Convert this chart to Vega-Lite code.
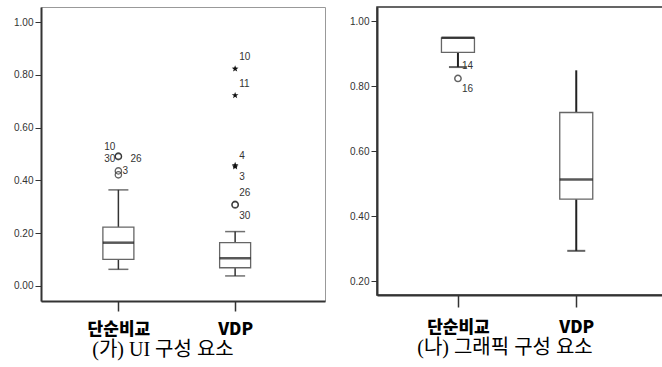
{
  "$schema": "https://vega.github.io/schema/vega-lite/v6.json",
  "padding": {"left": 13, "top": 6, "right": 0, "bottom": 0},
  "background": "white",
  "spacing": 22,
  "config": {
    "view": {"stroke": "#999", "strokeWidth": 1},
    "axis": {"labelFont": "Liberation Sans", "labelFontSize": 10, "labelColor": "#333", "tickColor": "#333", "domainColor": "#333", "domainWidth": 2, "grid": false}
  },
  "datasets": {
    "boxes": [
      {"panel": "A", "cat": 1, "lo": 0.063, "q1": 0.101, "med": 0.164, "q3": 0.223, "hi": 0.364},
      {"panel": "A", "cat": 2, "lo": 0.038, "q1": 0.069, "med": 0.105, "q3": 0.164, "hi": 0.206},
      {"panel": "B", "cat": 1, "lo": 0.859, "q1": 0.904, "med": 0.949, "q3": 0.949, "hi": 0.949},
      {"panel": "B", "cat": 2, "lo": 0.293, "q1": 0.452, "med": 0.513, "q3": 0.719, "hi": 0.849}
    ],
    "outliers": [
      {"panel": "A", "cat": 1, "value": 0.492, "kind": "o"},
      {"panel": "A", "cat": 1, "value": 0.490, "kind": "o"},
      {"panel": "A", "cat": 1, "value": 0.436, "kind": "o"},
      {"panel": "A", "cat": 1, "value": 0.421, "kind": "o"},
      {"panel": "A", "cat": 2, "value": 0.823, "kind": "*"},
      {"panel": "A", "cat": 2, "value": 0.722, "kind": "*"},
      {"panel": "A", "cat": 2, "value": 0.457, "kind": "*"},
      {"panel": "A", "cat": 2, "value": 0.452, "kind": "*"},
      {"panel": "A", "cat": 2, "value": 0.309, "kind": "o"},
      {"panel": "A", "cat": 2, "value": 0.307, "kind": "o"},
      {"panel": "B", "cat": 1, "value": 0.824, "kind": "o"}
    ],
    "labels": [
      {"panel": "A", "cat": 1, "value": 0.528, "label": "10", "side": "L"},
      {"panel": "A", "cat": 1, "value": 0.481, "label": "30", "side": "L"},
      {"panel": "A", "cat": 1, "value": 0.481, "label": "26", "side": "R2"},
      {"panel": "A", "cat": 1, "value": 0.436, "label": "3", "side": "R"},
      {"panel": "A", "cat": 2, "value": 0.867, "label": "10", "side": "R"},
      {"panel": "A", "cat": 2, "value": 0.764, "label": "11", "side": "R"},
      {"panel": "A", "cat": 2, "value": 0.492, "label": "4", "side": "R"},
      {"panel": "A", "cat": 2, "value": 0.414, "label": "3", "side": "R"},
      {"panel": "A", "cat": 2, "value": 0.353, "label": "26", "side": "R"},
      {"panel": "A", "cat": 2, "value": 0.265, "label": "30", "side": "R"},
      {"panel": "B", "cat": 1, "value": 0.862, "label": "14", "side": "R"},
      {"panel": "B", "cat": 1, "value": 0.790, "label": "16", "side": "R"}
    ]
  },
  "hconcat": [
    {
      "width": 284,
      "height": 294,
      "title": {"text": "(가) UI 구성  요소", "orient": "bottom", "font": "Liberation Serif, Noto Sans CJK KR", "fontSize": 20, "fontWeight": "normal", "color": "#000", "dx": -20, "offset": 3},
      "encoding": {
        "x": {"field": "cat", "type": "quantitative", "scale": {"domain": [0.38, 2.727], "nice": false, "zero": false},
          "axis": {"values": [1, 2], "labelExpr": "datum.value == 1 ? '단순비교' : 'VDP'", "title": null, "tickSize": 10, "tickWidth": 1.5, "labelFont": "Noto Sans CJK KR", "labelFontSize": 17, "labelFontWeight": 900, "labelColor": "#000", "labelPadding": 10}}
      },
      "layer": [
        {"data": {"name": "boxes"}, "transform": [{"filter": "datum.panel == 'A'"}],
          "mark": {"type": "rule", "color": "#333", "strokeWidth": 1.5},
          "encoding": {"y": {"field": "lo", "type": "quantitative", "scale": {"domain": [-0.057, 1.057], "nice": false, "zero": false}, "axis": {"values": [0, 0.2, 0.4, 0.6, 0.8, 1], "format": ".2f", "title": null, "tickSize": 6, "labelPadding": 2}}, "y2": {"field": "hi"}}},
        {"data": {"name": "boxes"}, "transform": [{"filter": "datum.panel == 'A'"}],
          "mark": {"type": "tick", "orient": "horizontal", "size": 20, "thickness": 1.5, "color": "#333"},
          "encoding": {"y": {"field": "lo", "type": "quantitative"}}},
        {"data": {"name": "boxes"}, "transform": [{"filter": "datum.panel == 'A'"}],
          "mark": {"type": "tick", "orient": "horizontal", "size": 20, "thickness": 1.5, "color": "#333"},
          "encoding": {"y": {"field": "hi", "type": "quantitative"}}},
        {"data": {"name": "boxes"}, "transform": [{"filter": "datum.panel == 'A'"}],
          "mark": {"type": "bar", "size": 31, "fill": "white", "stroke": "#666", "strokeWidth": 1.3},
          "encoding": {"y": {"field": "q1", "type": "quantitative"}, "y2": {"field": "q3"}}},
        {"data": {"name": "boxes"}, "transform": [{"filter": "datum.panel == 'A'"}],
          "mark": {"type": "tick", "orient": "horizontal", "size": 31, "thickness": 2.5, "color": "#111"},
          "encoding": {"y": {"field": "med", "type": "quantitative"}}},
        {"data": {"name": "outliers"}, "transform": [{"filter": "datum.panel == 'A' && datum.kind == 'o'"}],
          "mark": {"type": "point", "shape": "circle", "filled": false, "size": 40, "stroke": "#222", "strokeWidth": 1.3},
          "encoding": {"y": {"field": "value", "type": "quantitative"}}},
        {"data": {"name": "outliers"}, "transform": [{"filter": "datum.panel == 'A' && datum.kind == '*'"}],
          "mark": {"type": "point", "shape": "M0,-1L0.24,-0.33L0.95,-0.31L0.38,0.12L0.59,0.81L0,0.4L-0.59,0.81L-0.38,0.12L-0.95,-0.31L-0.24,-0.33Z", "filled": true, "size": 50, "color": "#111", "opacity": 1},
          "encoding": {"y": {"field": "value", "type": "quantitative"}}},
        {"data": {"name": "labels"}, "transform": [{"filter": "datum.panel == 'A' && datum.side == 'L'"}],
          "mark": {"type": "text", "align": "right", "baseline": "middle", "dx": -3, "font": "Liberation Sans", "fontSize": 10, "color": "#333"},
          "encoding": {"y": {"field": "value", "type": "quantitative"}, "text": {"field": "label"}}},
        {"data": {"name": "labels"}, "transform": [{"filter": "datum.panel == 'A' && datum.side == 'R'"}],
          "mark": {"type": "text", "align": "left", "baseline": "middle", "dx": 4, "font": "Liberation Sans", "fontSize": 10, "color": "#333"},
          "encoding": {"y": {"field": "value", "type": "quantitative"}, "text": {"field": "label"}}},
        {"data": {"name": "labels"}, "transform": [{"filter": "datum.panel == 'A' && datum.side == 'R2'"}],
          "mark": {"type": "text", "align": "left", "baseline": "middle", "dx": 12, "font": "Liberation Sans", "fontSize": 10, "color": "#333"},
          "encoding": {"y": {"field": "value", "type": "quantitative"}, "text": {"field": "label"}}}
      ]
    },
    {
      "width": 286,
      "height": 288,
      "view": {"stroke": "#333", "strokeWidth": 1.5},
      "title": {"text": "(나) 그래픽 구성 요소", "orient": "bottom", "font": "Liberation Serif, Noto Sans CJK KR", "fontSize": 20, "fontWeight": "normal", "color": "#000", "dx": -15, "offset": 3},
      "encoding": {
        "x": {"field": "cat", "type": "quantitative", "scale": {"domain": [0.358, 2.691], "nice": false, "zero": false},
          "axis": {"values": [1, 2], "labelExpr": "datum.value == 1 ? '단순비교' : 'VDP'", "title": null, "tickSize": 12, "tickWidth": 1.5, "labelFont": "Noto Sans CJK KR", "labelFontSize": 17, "labelFontWeight": 900, "labelColor": "#000", "labelPadding": 12}}
      },
      "layer": [
        {"data": {"name": "boxes"}, "transform": [{"filter": "datum.panel == 'B'"}],
          "mark": {"type": "rule", "color": "#222", "strokeWidth": 2},
          "encoding": {"y": {"field": "lo", "type": "quantitative", "scale": {"domain": [0.157, 1.044], "nice": false, "zero": false}, "axis": {"values": [0.2, 0.4, 0.6, 0.8, 1], "format": ".2f", "title": null, "tickSize": 6, "labelPadding": 2}}, "y2": {"field": "hi"}}},
        {"data": {"name": "boxes"}, "transform": [{"filter": "datum.panel == 'B'"}],
          "mark": {"type": "tick", "orient": "horizontal", "size": 18, "thickness": 2, "color": "#222"},
          "encoding": {"y": {"field": "lo", "type": "quantitative"}}},
        {"data": {"name": "boxes"}, "transform": [{"filter": "datum.panel == 'B'"}],
          "mark": {"type": "bar", "size": 33, "fill": "white", "stroke": "#666", "strokeWidth": 1.3},
          "encoding": {"y": {"field": "q1", "type": "quantitative"}, "y2": {"field": "q3"}}},
        {"data": {"name": "boxes"}, "transform": [{"filter": "datum.panel == 'B'"}],
          "mark": {"type": "tick", "orient": "horizontal", "size": 33, "thickness": 2.5, "color": "#111"},
          "encoding": {"y": {"field": "med", "type": "quantitative"}}},
        {"data": {"name": "outliers"}, "transform": [{"filter": "datum.panel == 'B' && datum.kind == 'o'"}],
          "mark": {"type": "point", "shape": "circle", "filled": false, "size": 40, "stroke": "#222", "strokeWidth": 1.5},
          "encoding": {"y": {"field": "value", "type": "quantitative"}}},
        {"data": {"name": "labels"}, "transform": [{"filter": "datum.panel == 'B' && datum.side == 'R'"}],
          "mark": {"type": "text", "align": "left", "baseline": "middle", "dx": 4, "font": "Liberation Sans", "fontSize": 10, "color": "#333"},
          "encoding": {"y": {"field": "value", "type": "quantitative"}, "text": {"field": "label"}}}
      ]
    }
  ]
}
